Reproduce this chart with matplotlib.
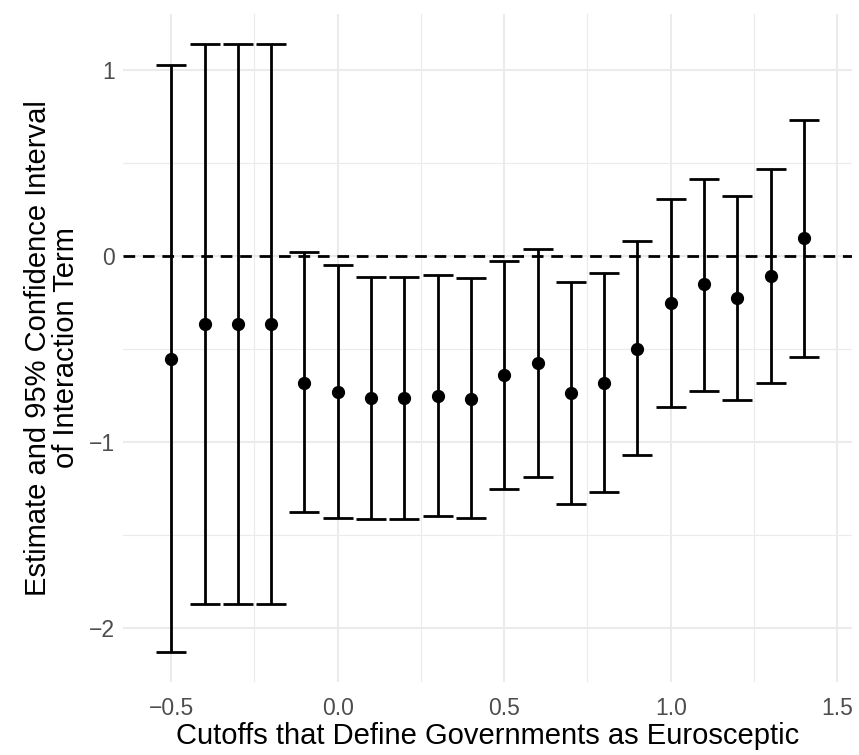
#!/usr/bin/env python3
"""Interaction term estimates across euroscepticism cutoffs."""

import numpy as np
import matplotlib
matplotlib.use('Agg')
import matplotlib.pyplot as plt

# =============================================================================
# Data
# =============================================================================
cutoffs = [-0.5, -0.4, -0.3, -0.2, -0.1, 0.0, 0.1, 0.2, 0.3, 0.4,
           0.5, 0.6, 0.7, 0.8, 0.9, 1.0, 1.1, 1.2, 1.3, 1.4]
estimate = [-0.554, -0.366, -0.366, -0.366, -0.681, -0.729, -0.765, -0.765, -0.753, -0.767,
            -0.640, -0.577, -0.737, -0.681, -0.498, -0.254, -0.152, -0.228, -0.108, 0.095]
ci_low = [-2.13, -1.871, -1.871, -1.871, -1.376, -1.41, -1.416, -1.416, -1.40, -1.41,
          -1.251, -1.19, -1.332, -1.271, -1.072, -0.812, -0.724, -0.774, -0.685, -0.541]
ci_high = [1.027, 1.14, 1.14, 1.14, 0.02, -0.048, -0.111, -0.111, -0.104, -0.12,
           -0.025, 0.038, -0.138, -0.093, 0.08, 0.308, 0.414, 0.321, 0.468, 0.731]

x_ticks = [-0.5, 0.0, 0.5, 1.0, 1.5]
x_labels = ['\u22120.5', '0.0', '0.5', '1.0', '1.5']
y_ticks = [-2, -1, 0, 1]
y_labels = ['\u22122', '\u22121', '0', '1']

# =============================================================================
# Plot settings
# =============================================================================
plt.rcParams['font.family'] = ['Liberation Sans', 'DejaVu Sans']
GRID = '#EBEBEB'

x = np.array(cutoffs)
y = np.array(estimate)
lo = np.array(ci_low)
hi = np.array(ci_high)

fig = plt.figure(figsize=(8.59, 7.55), dpi=100)
ax = fig.add_axes([0.1433, 0.0967, 0.9919 - 0.1433, 0.9815 - 0.0967])

# grid, theme_minimal style
for v in [-0.25, 0.25, 0.75, 1.25]:
    ax.axvline(v, color=GRID, lw=0.8, zorder=0)
for v in [-1.5, -0.5, 0.5]:
    ax.axhline(v, color=GRID, lw=0.8, zorder=0)
for v in x_ticks:
    ax.axvline(v, color=GRID, lw=1.5, zorder=0)
for v in y_ticks:
    ax.axhline(v, color=GRID, lw=1.5, zorder=0)

ax.axhline(0, color='black', lw=2.0, linestyle=(0, (4.2, 2.8)), zorder=1)

ax.errorbar(x, y, yerr=[y - lo, hi - y], fmt='o', color='black',
            ms=8.5, elinewidth=2.0, capsize=10.5, capthick=2.0, zorder=3)

ax.set_xlim(-0.6445, 1.5445)
ax.set_ylim(-2.29, 1.30)
ax.set_xticks(x_ticks)
ax.set_xticklabels(x_labels)
ax.set_yticks(y_ticks)
ax.set_yticklabels(y_labels)
ax.tick_params(length=0, labelsize=16.5, labelcolor='#4D4D4D')
ax.tick_params(axis='y', pad=6)
ax.tick_params(axis='x', pad=11)
for s in ax.spines.values():
    s.set_visible(False)

ax.set_xlabel('Cutoffs that Define Governments as Eurosceptic',
              fontsize=21, labelpad=1)
ax.set_ylabel('Estimate and 95% Confidence Interval\nof Interaction Term',
              fontsize=21, labelpad=6, linespacing=1.0)

fig.savefig('out.png', dpi=100)
